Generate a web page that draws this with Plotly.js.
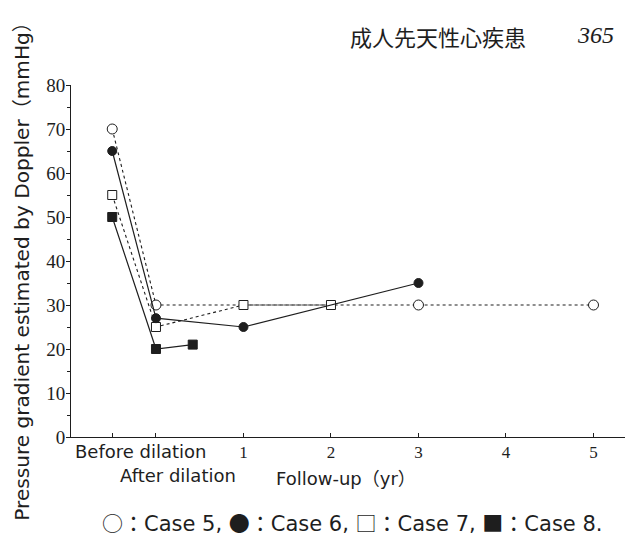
<!DOCTYPE html>
<html>
<head>
<meta charset="utf-8">
<script src="https://cdn.plot.ly/plotly-3.0.1.min.js"></script>
<style>html,body{margin:0;padding:0;background:#fff;}#chart{width:634px;height:540px;}</style>
</head>
<body>
<div id="chart"></div>
<script>
// Data (x: -0.5 = Before dilation, 0 = After dilation, then follow-up years)
const case5X = [-0.5, 0, 3, 5];
const case5Y = [70, 30, 30, 30];
const case6X = [-0.5, 0, 1, 3];
const case6Y = [65, 27, 25, 35];
const case7X = [-0.5, 0, 1, 2];
const case7Y = [55, 25, 30, 30];
const case8X = [-0.5, 0, 0.42];
const case8Y = [50, 20, 21];

const xTickVals = [-0.5, 0, 1, 2, 3, 4, 5];
const xTickText = ['', '', '1', '2', '3', '4', '5'];
const yTickVals = [0, 10, 20, 30, 40, 50, 60, 70, 80];

const ink = '#1e1e1e';
const sans = 'DejaVu Sans, Noto Sans CJK JP, sans-serif';
const serif = 'Liberation Serif, DejaVu Serif, serif';
const cjk = 'Noto Sans CJK JP';

const traces = [
  {x: case5X, y: case5Y, mode: 'lines+markers', name: 'Case 5',
   line: {color: ink, width: 1.1, dash: 'dot'},
   marker: {symbol: 'circle', size: 10, color: '#fff', line: {color: ink, width: 1}}},
  {x: case7X, y: case7Y, mode: 'lines+markers', name: 'Case 7',
   line: {color: ink, width: 1.1, dash: 'dot'},
   marker: {symbol: 'square', size: 9, color: '#fff', line: {color: ink, width: 1}}},
  {x: case6X, y: case6Y, mode: 'lines+markers', name: 'Case 6',
   line: {color: ink, width: 1.2},
   marker: {symbol: 'circle', size: 9, color: ink, line: {color: ink, width: 1}}},
  {x: case8X, y: case8Y, mode: 'lines+markers', name: 'Case 8',
   line: {color: ink, width: 1.2},
   marker: {symbol: 'square', size: 9, color: ink, line: {color: ink, width: 1}}}
];

const legendText =
  '<span style="font-family:\'Noto Sans CJK JP\'">○：</span>Case 5, ' +
  '<span style="font-family:\'Noto Sans CJK JP\'">●：</span>Case 6, ' +
  '<span style="font-family:\'Noto Sans CJK JP\'">□：</span>Case 7, ' +
  '<span style="font-family:\'Noto Sans CJK JP\'">■：</span>Case 8.';

const layout = {
  width: 634, height: 540,
  margin: {l: 71, r: 9, t: 85, b: 103, pad: 0},
  paper_bgcolor: '#fff', plot_bgcolor: '#fff',
  showlegend: false,
  xaxis: {
    range: [-0.971, 5.36], showgrid: false, zeroline: false,
    showline: true, linecolor: ink, linewidth: 1,
    tickmode: 'array', tickvals: xTickVals, ticktext: xTickText,
    ticks: 'inside', ticklen: 4, tickcolor: ink, tickwidth: 1,
    tickfont: {family: serif, size: 17, color: ink}
  },
  yaxis: {
    range: [0, 80], showgrid: false, zeroline: false,
    showline: true, linecolor: ink, linewidth: 1,
    tickmode: 'array', tickvals: yTickVals,
    ticks: 'outside', ticklen: 4, tickcolor: ink, tickwidth: 1,
    ticklabelstandoff: -3,
    minor: {dtick: 5, ticks: 'outside', ticklen: 3, tickcolor: ink, tickwidth: 1, tick0: 0},
    tickfont: {family: serif, size: 19, color: ink}
  },
  annotations: [
    {text: 'Pressure gradient estimated by Doppler（mmHg）', xref: 'paper', yref: 'paper',
     x: -0.0884, y: 0.484, xanchor: 'center', yanchor: 'middle', textangle: -90, showarrow: false,
     font: {family: sans, size: 20.1, color: ink}},
    {text: 'Before dilation', xref: 'paper', yref: 'paper', x: 0.126, y: -0.040,
     xanchor: 'center', yanchor: 'middle', showarrow: false, font: {family: sans, size: 18, color: ink}},
    {text: 'After dilation', xref: 'paper', yref: 'paper', x: 0.193, y: -0.110,
     xanchor: 'center', yanchor: 'middle', showarrow: false, font: {family: sans, size: 18, color: ink}},
    {text: 'Follow-up（yr）', xref: 'paper', yref: 'paper', x: 0.497, y: -0.117,
     xanchor: 'center', yanchor: 'middle', showarrow: false, font: {family: sans, size: 18, color: ink}},
    {text: legendText, xref: 'paper', yref: 'paper', x: 0.507, y: -0.242,
     xanchor: 'center', yanchor: 'middle', showarrow: false, font: {family: sans, size: 21, color: ink}},
    {text: '成人先天性心疾患', xref: 'paper', yref: 'paper', x: 0.662, y: 1.138,
     xanchor: 'center', yanchor: 'middle', showarrow: false, font: {family: cjk, size: 22, color: ink}},
    {text: '<i>365</i>', xref: 'paper', yref: 'paper', x: 0.946, y: 1.142,
     xanchor: 'center', yanchor: 'middle', showarrow: false, font: {family: serif, size: 24, color: ink}}
  ]
};

Plotly.newPlot('chart', traces, layout, {displayModeBar: false, staticPlot: true});
</script>
</body>
</html>
